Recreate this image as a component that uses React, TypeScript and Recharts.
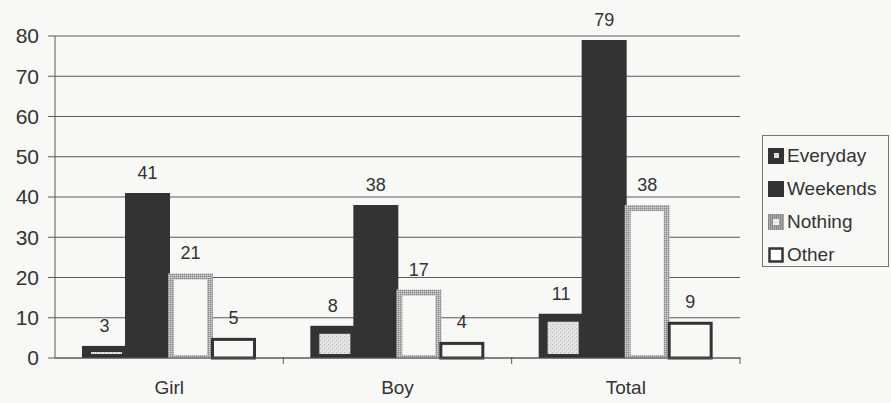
import React from "react";
import { BarChart, Bar, XAxis, YAxis, CartesianGrid, LabelList } from "recharts";

const groups = ["Girl", "Boy", "Total"];
const everyday = [3, 8, 11];
const weekends = [41, 38, 79];
const nothing = [21, 17, 38];
const other = [5, 4, 9];
const yTicks = [0, 10, 20, 30, 40, 50, 60, 70, 80];

const data = groups.map((g, i) => ({
  group: g,
  Everyday: everyday[i],
  Weekends: weekends[i],
  Nothing: nothing[i],
  Other: other[i],
}));

const dark = "#333333";
const paper = "#f8f8f6";
const font = "'Liberation Sans', Arial, sans-serif";
// plot box: left 55, right 740 -> one category band
const band = (740 - 55) / groups.length;

function EverydayShape(p: any) {
  const { x, y, width, height } = p;
  const ih = Math.max(height - 12, 2);
  return (
    <g>
      <rect x={x} y={y} width={width} height={height} fill={dark} />
      <rect x={x + 9} y={y + height - 4 - ih} width={width - 14} height={ih} fill="url(#dots)" />
    </g>
  );
}

function NothingShape(p: any) {
  const { x, y, width, height } = p;
  return (
    <g>
      <rect x={x} y={y} width={width} height={height} fill="url(#gray)" />
      <rect x={x + 6} y={y + 6} width={width - 12} height={Math.max(height - 9, 0)} fill={paper} />
    </g>
  );
}

function OtherShape(p: any) {
  const { x, y, width, height } = p;
  return <rect x={x + 1.5} y={y + 1.5} width={width - 3} height={height - 1.5} fill={paper} stroke={dark} strokeWidth={3} />;
}

function XTick(p: any) {
  const { x, y, payload } = p;
  return (
    <g>
      <line x1={x + band / 2} x2={x + band / 2} y1={y - 9} y2={y - 2} stroke="#5a5a5a" />
      <text x={x} y={y + 28} textAnchor="middle" fill={dark} fontSize={19} fontFamily={font}>
        {payload.value}
      </text>
    </g>
  );
}

function LegendBox() {
  const items = [
    { name: "Everyday", icon: <g><rect width={16} height={16} fill={dark} /><rect x={6} y={5} width={5} height={5} fill="#ddd" /></g> },
    { name: "Weekends", icon: <rect width={16} height={16} fill={dark} /> },
    { name: "Nothing", icon: <g><rect width={16} height={16} fill="url(#gray2)" /><rect x={5} y={5} width={6} height={6} fill="#eee" /></g> },
    { name: "Other", icon: <rect x={1.5} y={1.5} width={13} height={13} fill="#fff" stroke={dark} strokeWidth={2.5} /> },
  ];
  return (
    <div
      style={{
        position: "absolute",
        left: 762,
        top: 135,
        width: 127,
        height: 132,
        border: "1px solid #777",
        boxSizing: "border-box",
        padding: "3px 0 0 5px",
        fontFamily: font,
        fontSize: 19,
        color: dark,
      }}
    >
      {items.map((it) => (
        <div key={it.name} style={{ display: "flex", alignItems: "center", height: 33, whiteSpace: "nowrap" }}>
          <svg width={17} height={16} style={{ marginRight: 2 }}>
            <defs>
              <pattern id="gray2" width={2} height={2} patternUnits="userSpaceOnUse">
                <rect width={2} height={2} fill="#aaa" />
                <rect width={1} height={2} fill="#888" />
              </pattern>
            </defs>
            {it.icon}
          </svg>
          <span>{it.name}</span>
        </div>
      ))}
    </div>
  );
}

const labelStyle = { fill: dark, fontSize: 18, fontFamily: font };

export default function App() {
  return (
    <div style={{ position: "absolute", left: 0, top: 0, width: 891, height: 403, background: paper }}>
      <BarChart
        width={891}
        height={403}
        data={data}
        margin={{ top: 36, right: 151, bottom: 0, left: 0 }}
        barSize={45}
        barGap={-2}
      >
        <defs>
          <pattern id="dots" width={4} height={4} patternUnits="userSpaceOnUse">
            <rect width={4} height={4} fill="#e2e2e2" />
            <rect width={1} height={1} fill="#b5b5b5" />
            <rect x={2} y={2} width={1} height={1} fill="#c5c5c5" />
          </pattern>
          <pattern id="gray" width={2} height={2} patternUnits="userSpaceOnUse">
            <rect width={2} height={2} fill="#b0b0b0" />
            <rect width={1} height={1} fill="#888" />
            <rect x={1} y={1} width={1} height={1} fill="#d0d0d0" />
          </pattern>
        </defs>
        <CartesianGrid vertical={false} stroke="#5a5a5a" strokeWidth={1} />
        <XAxis
          dataKey="group"
          tickLine={false}
          axisLine={{ stroke: "#5a5a5a" }}
          height={45}
          tick={<XTick />}
          interval={0}
        />
        <YAxis
          domain={[0, 80]}
          ticks={yTicks}
          width={55}
          tickSize={7}
          tickMargin={9}
          axisLine={{ stroke: "#5a5a5a" }}
          tickLine={{ stroke: "#5a5a5a" }}
          tick={{ fill: dark, fontSize: 21, fontFamily: font }}
        />
        <Bar dataKey="Everyday" fill={dark} shape={<EverydayShape />} isAnimationActive={false}>
          <LabelList dataKey="Everyday" position="top" offset={14} style={labelStyle} />
        </Bar>
        <Bar dataKey="Weekends" fill={dark} isAnimationActive={false}>
          <LabelList dataKey="Weekends" position="top" offset={14} style={labelStyle} />
        </Bar>
        <Bar dataKey="Nothing" fill="#aaa" shape={<NothingShape />} isAnimationActive={false}>
          <LabelList dataKey="Nothing" position="top" offset={14} style={labelStyle} />
        </Bar>
        <Bar dataKey="Other" fill="#fff" shape={<OtherShape />} isAnimationActive={false}>
          <LabelList dataKey="Other" position="top" offset={14} style={labelStyle} />
        </Bar>
      </BarChart>
      <LegendBox />
    </div>
  );
}
